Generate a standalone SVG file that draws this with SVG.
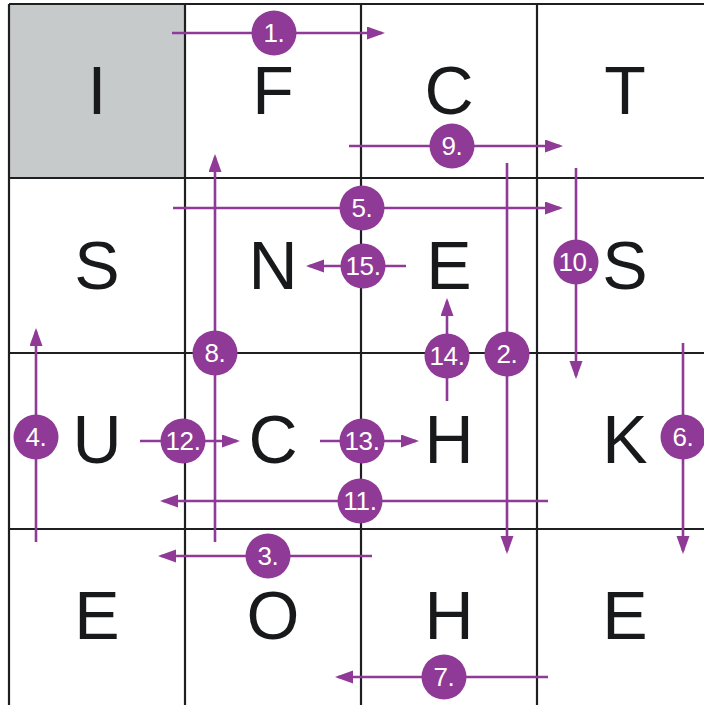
<svg xmlns="http://www.w3.org/2000/svg" width="704" height="705" viewBox="0 0 704 705">
<style>
.cell{fill:#ffffff;stroke:none}
.start{fill:#c7cacb}
.letter{font-family:"Liberation Sans",Arial,sans-serif;font-size:68px;fill:#18191b;text-anchor:middle}
.grid{stroke:#1e1f21;stroke-width:2.2;fill:none}
.conn{stroke:#8e3a96;stroke-width:2.6;fill:none}
.badge{fill:#8e3a96}
.num{font-family:"Liberation Sans",Arial,sans-serif;font-size:26px;letter-spacing:-0.3px;fill:#ffffff;text-anchor:middle}
</style>
<defs>
<marker id="ah" markerUnits="userSpaceOnUse" markerWidth="19" markerHeight="14" refX="15" refY="6.5" orient="auto">
<path d="M0,0 L18,6.5 L0,13 z" fill="#8e3a96"/>
</marker>
</defs>
<rect x="0" y="0" width="704" height="705" fill="#ffffff"/>
<g id="cells">
<g id="r0c0"><rect class="start" x="9" y="4" width="176" height="174"/><text class="letter" x="97" y="114">I</text></g>
<g id="r0c1"><text class="letter" x="273" y="114">F</text></g>
<g id="r0c2"><text class="letter" x="449" y="114">C</text></g>
<g id="r0c3"><text class="letter" x="625" y="114">T</text></g>
<g id="r1c0"><text class="letter" x="97" y="289">S</text></g>
<g id="r1c1"><text class="letter" x="273" y="289">N</text></g>
<g id="r1c2"><text class="letter" x="449" y="289">E</text></g>
<g id="r1c3"><text class="letter" x="625" y="289">S</text></g>
<g id="r2c0"><text class="letter" x="97" y="463">U</text></g>
<g id="r2c1"><text class="letter" x="273" y="463">C</text></g>
<g id="r2c2"><text class="letter" x="449" y="463">H</text></g>
<g id="r2c3"><text class="letter" x="625" y="463">K</text></g>
<g id="r3c0"><text class="letter" x="97" y="639">E</text></g>
<g id="r3c1"><text class="letter" x="273" y="639">O</text></g>
<g id="r3c2"><text class="letter" x="449" y="639">H</text></g>
<g id="r3c3"><text class="letter" x="625" y="639">E</text></g>
</g>
<g id="grid">
<path class="grid" d="M9,4 H704 M9,178 H704 M9,353 H704 M9,529 H704 M9,4 V705 M185,4 V705 M361,4 V705 M537,4 V705"/>
</g>
<g id="connectors">
<line class="conn" x1="172" y1="33" x2="382" y2="33" marker-end="url(#ah)"/>
<line class="conn" x1="507" y1="163" x2="507" y2="551" marker-end="url(#ah)"/>
<line class="conn" x1="372" y1="556" x2="161" y2="556" marker-end="url(#ah)"/>
<line class="conn" x1="36" y1="542" x2="36" y2="331" marker-end="url(#ah)"/>
<line class="conn" x1="173" y1="208" x2="560" y2="208" marker-end="url(#ah)"/>
<line class="conn" x1="683" y1="343" x2="683" y2="551" marker-end="url(#ah)"/>
<line class="conn" x1="548" y1="677" x2="338" y2="677" marker-end="url(#ah)"/>
<line class="conn" x1="215" y1="542" x2="215" y2="157" marker-end="url(#ah)"/>
<line class="conn" x1="349" y1="146" x2="560" y2="146" marker-end="url(#ah)"/>
<line class="conn" x1="576" y1="168" x2="576" y2="376" marker-end="url(#ah)"/>
<line class="conn" x1="548" y1="501" x2="163" y2="501" marker-end="url(#ah)"/>
<line class="conn" x1="140" y1="441" x2="237" y2="441" marker-end="url(#ah)"/>
<line class="conn" x1="320" y1="441" x2="416" y2="441" marker-end="url(#ah)"/>
<line class="conn" x1="447" y1="401" x2="447" y2="301" marker-end="url(#ah)"/>
<line class="conn" x1="406" y1="266" x2="309" y2="266" marker-end="url(#ah)"/>
</g>
<g id="labels">
<g id="b1"><circle class="badge" cx="274" cy="33" r="22.5"/><text class="num" x="274" y="42">1.</text></g>
<g id="b2"><circle class="badge" cx="507" cy="354" r="22.5"/><text class="num" x="507" y="363">2.</text></g>
<g id="b3"><circle class="badge" cx="268" cy="556" r="22.5"/><text class="num" x="268" y="565">3.</text></g>
<g id="b4"><circle class="badge" cx="36" cy="437" r="22.5"/><text class="num" x="36" y="446">4.</text></g>
<g id="b5"><circle class="badge" cx="362" cy="208" r="22.5"/><text class="num" x="362" y="217">5.</text></g>
<g id="b6"><circle class="badge" cx="683" cy="437" r="22.5"/><text class="num" x="683" y="446">6.</text></g>
<g id="b7"><circle class="badge" cx="444" cy="677" r="22.5"/><text class="num" x="444" y="686">7.</text></g>
<g id="b8"><circle class="badge" cx="215" cy="353" r="22.5"/><text class="num" x="215" y="362">8.</text></g>
<g id="b9"><circle class="badge" cx="452" cy="146" r="22.5"/><text class="num" x="452" y="155">9.</text></g>
<g id="b10"><circle class="badge" cx="576" cy="262" r="22.5"/><text class="num" x="576" y="271">10.</text></g>
<g id="b11"><circle class="badge" cx="360" cy="501" r="22.5"/><text class="num" x="360" y="510">11.</text></g>
<g id="b12"><circle class="badge" cx="183" cy="441" r="22.5"/><text class="num" x="183" y="450">12.</text></g>
<g id="b13"><circle class="badge" cx="362" cy="441" r="22.5"/><text class="num" x="362" y="450">13.</text></g>
<g id="b14"><circle class="badge" cx="447" cy="356" r="22.5"/><text class="num" x="447" y="365">14.</text></g>
<g id="b15"><circle class="badge" cx="363" cy="266" r="22.5"/><text class="num" x="363" y="275">15.</text></g>
</g>
</svg>
